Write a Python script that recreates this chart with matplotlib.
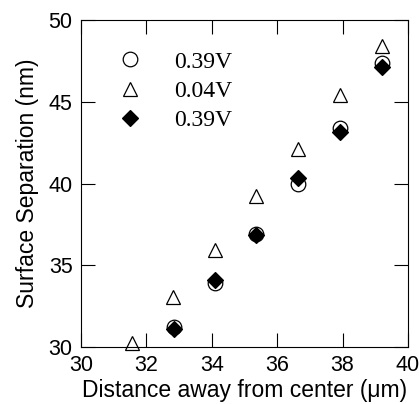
import numpy as np
import matplotlib.pyplot as plt

# data
x_circ = [32.85, 34.1, 35.35, 36.65, 37.92, 39.2]
y_circ = [31.24, 33.93, 36.89, 39.97, 43.41, 47.4]

x_tri = [31.56, 32.82, 34.1, 35.35, 36.65, 37.92, 39.2]
y_tri = [30.26, 33.08, 35.93, 39.24, 42.1, 45.43, 48.4]

x_dia = [32.85, 34.1, 35.35, 36.65, 37.92, 39.2]
y_dia = [31.08, 34.1, 36.85, 40.36, 43.17, 47.15]

labels = ['0.39V', '0.04V', '0.39V']

plt.rcParams['font.family'] = ['Liberation Sans', 'DejaVu Sans']

fig = plt.figure(figsize=(4.19, 4.04), dpi=100)
ax = fig.add_axes([81 / 419, 57 / 404, 327 / 419, 327 / 404])

ax.plot(x_circ, y_circ, 'o', mfc='white', mec='black', ms=10.5, mew=0.9,
        label=labels[0], clip_on=False)
ax.plot(x_tri, y_tri, '^', mfc='white', mec='black', ms=10.5, mew=0.9,
        label=labels[1], clip_on=False)
ax.plot(x_dia, y_dia, 'D', mfc='black', mec='black', ms=8, mew=0.9,
        label=labels[2], clip_on=False)

ax.set_xlim(30, 40)
ax.set_ylim(30, 50)
ax.set_xticks(np.arange(30, 41, 2))
ax.set_yticks(np.arange(30, 51, 5))
ax.tick_params(direction='in', top=True, right=True, length=10, width=0.8,
               labelsize=15.5, pad=6)
for s in ax.spines.values():
    s.set_linewidth(0.8)

ax.set_xlabel('Distance away from center (\u03bcm)', fontsize=16.5, labelpad=2)
ax.set_ylabel('Surface Separation (nm)', fontsize=16.5, labelpad=7)

leg = ax.legend(loc='upper left', bbox_to_anchor=(0.05, 0.97), frameon=False,
                prop={'family': 'Liberation Serif', 'size': 17},
                handletextpad=1.35, labelspacing=0.33, handlelength=1.0)

fig.savefig('out.png', dpi=100)
